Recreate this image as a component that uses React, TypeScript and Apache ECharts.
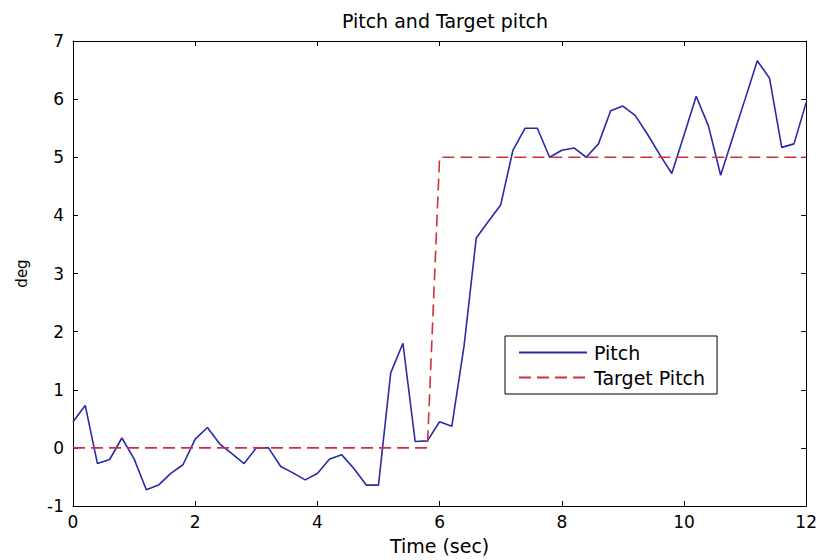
import React, { useEffect, useRef } from "react";
import * as echarts from "echarts";

const titleText = "Pitch and Target pitch";
const xName = "Time (sec)";
const yName = "deg";
const seriesNames = ["Pitch", "Target Pitch"];

const times = [
  0, 0.2, 0.4, 0.6, 0.8, 1.0, 1.2, 1.4, 1.6, 1.8, 2.0, 2.2, 2.4, 2.6, 2.8, 3.0,
  3.2, 3.4, 3.6, 3.8, 4.0, 4.2, 4.4, 4.6, 4.8, 5.0, 5.2, 5.4, 5.6, 5.8, 6.0,
  6.2, 6.4, 6.6, 6.8, 7.0, 7.2, 7.4, 7.6, 7.8, 8.0, 8.2, 8.4, 8.6, 8.8, 9.0,
  9.2, 9.4, 9.6, 9.8, 10.0, 10.2, 10.4, 10.6, 10.8, 11.0, 11.2, 11.4, 11.6,
  11.8, 12.0,
];

const pitch = [
  0.45, 0.73, -0.27, -0.2, 0.17, -0.19, -0.72, -0.64, -0.44, -0.29, 0.15, 0.35,
  0.07, -0.1, -0.27, 0.0, 0.0, -0.32, -0.43, -0.55, -0.44, -0.19, -0.12, -0.36,
  -0.64, -0.64, 1.29, 1.8, 0.11, 0.12, 0.45, 0.37, 1.75, 3.61, 3.9, 4.18, 5.12,
  5.5, 5.5, 5.0, 5.12, 5.16, 5.0, 5.23, 5.8, 5.88, 5.72, 5.4, 5.05, 4.72, 5.38,
  6.05, 5.54, 4.69, 5.35, 6.0, 6.66, 6.36, 5.17, 5.23, 5.94,
];

const targetTimes = [0, 5.8, 6.0, 12];
const targetValues = [0, 0, 5, 5];

const xTicks = [0, 2, 4, 6, 8, 10, 12];
const yTicks = [-1, 0, 1, 2, 3, 4, 5, 6, 7];

const FONT = "DejaVu Sans";
const BLUE = "#2a2aa8";
const RED = "#d0303c";

export default function App() {
  const ref = useRef<HTMLDivElement>(null);
  useEffect(() => {
    if (!ref.current) return;
    const chart = echarts.init(ref.current, null, { renderer: "svg" });
    const xMin = xTicks[0];
    const xMax = xTicks[xTicks.length - 1];
    const yMin = yTicks[0];
    const yMax = yTicks[yTicks.length - 1];
    const tickStyle = { show: true, inside: true, length: 5, lineStyle: { color: "#000" } };
    const axisLineStyle = { show: true, onZero: false, lineStyle: { color: "#000", width: 1 } };
    chart.setOption({
      animation: false,
      backgroundColor: "#fff",
      title: {
        text: titleText,
        left: 440,
        textAlign: "center",
        top: 6,
        textStyle: { fontFamily: FONT, fontSize: 19, fontWeight: "normal", color: "#000" },
      },
      grid: { left: 73, top: 41, width: 736, height: 470 },
      legend: {
        orient: "vertical",
        left: 505,
        top: 336,
        padding: [7, 12, 7, 13],
        itemGap: 6,
        itemWidth: 68,
        itemHeight: 14,
        borderColor: "#000",
        borderWidth: 1,
        backgroundColor: "#fff",
        itemStyle: { opacity: 0 },
        textStyle: { fontFamily: FONT, fontSize: 19, color: "#000", padding: [0, 0, 0, 2] },
        data: seriesNames,
      },
      xAxis: [
        {
          type: "value",
          min: xMin,
          max: xMax,
          interval: 2,
          name: xName,
          nameLocation: "middle",
          nameGap: 30,
          nameTextStyle: { fontFamily: FONT, fontSize: 19, color: "#000" },
          axisLine: axisLineStyle,
          axisTick: tickStyle,
          splitLine: { show: false },
          axisLabel: { fontFamily: FONT, fontSize: 17, color: "#000", margin: 7 },
        },
        {
          type: "value",
          position: "top",
          min: xMin,
          max: xMax,
          interval: 2,
          axisLine: axisLineStyle,
          axisTick: tickStyle,
          splitLine: { show: false },
          axisLabel: { show: false },
        },
      ],
      yAxis: [
        {
          type: "value",
          min: yMin,
          max: yMax,
          interval: 1,
          name: yName,
          nameLocation: "middle",
          nameGap: 44,
          nameTextStyle: { fontFamily: FONT, fontSize: 15, color: "#000" },
          axisLine: axisLineStyle,
          axisTick: tickStyle,
          splitLine: { show: false },
          axisLabel: { fontFamily: FONT, fontSize: 17, color: "#000", margin: 9 },
        },
        {
          type: "value",
          position: "right",
          min: yMin,
          max: yMax,
          interval: 1,
          axisLine: axisLineStyle,
          axisTick: tickStyle,
          splitLine: { show: false },
          axisLabel: { show: false },
        },
      ],
      series: [
        {
          name: seriesNames[0],
          type: "line",
          data: times.map((t, i) => [t, pitch[i]]),
          showSymbol: false,
          symbol: "none",
          lineStyle: { color: BLUE, width: 1.6 },
          itemStyle: { color: BLUE },
        },
        {
          name: seriesNames[1],
          type: "line",
          data: targetTimes.map((t, i) => [t, targetValues[i]]),
          showSymbol: false,
          symbol: "none",
          lineStyle: { color: RED, width: 1.6, type: [12, 6] },
          itemStyle: { color: RED },
        },
      ],
    });
    return () => chart.dispose();
  }, []);
  return (
    <div
      ref={ref}
      style={{ position: "fixed", left: 0, top: 0, width: 820, height: 560, background: "#fff" }}
    />
  );
}
